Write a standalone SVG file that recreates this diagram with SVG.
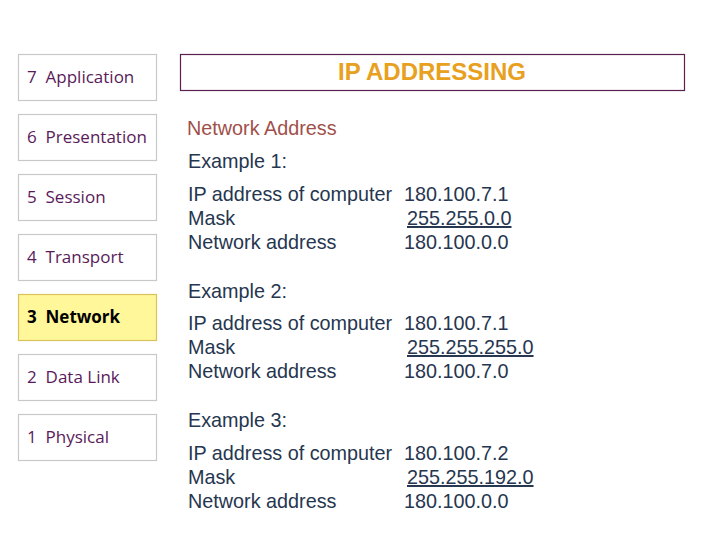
<svg xmlns="http://www.w3.org/2000/svg" width="720" height="540" viewBox="0 0 720 540">
<style>
.layer rect{fill:#fff;stroke:#c8c8c8;stroke-width:1.2}
.layer text{font-family:"Open Sans","Noto Sans",sans-serif;font-size:17px;fill:#5a1a5a;white-space:pre}
#l3 rect{fill:#fff799;stroke:#d9c25a}
#l3 text{fill:#000;font-weight:bold}
.t{font-family:"Liberation Sans",Arial,sans-serif;font-size:19.8px;fill:#26364f}
.u{text-decoration:underline}
</style>
<rect width="720" height="540" fill="#fff"/>
<g id="l7" class="layer"><rect x="18.5" y="54.5" width="138" height="46"/><text x="27" y="83" xml:space="preserve">7  Application</text></g>
<g id="l6" class="layer"><rect x="18.5" y="114.5" width="138" height="46"/><text x="27" y="143" xml:space="preserve">6  Presentation</text></g>
<g id="l5" class="layer"><rect x="18.5" y="174.5" width="138" height="46"/><text x="27" y="203" xml:space="preserve">5  Session</text></g>
<g id="l4" class="layer"><rect x="18.5" y="234.5" width="138" height="46"/><text x="27" y="263" xml:space="preserve">4  Transport</text></g>
<g id="l3" class="layer"><rect x="18.5" y="294.5" width="138" height="46"/><text x="27" y="323" xml:space="preserve">3  Network</text></g>
<g id="l2" class="layer"><rect x="18.5" y="354.5" width="138" height="46"/><text x="27" y="383" xml:space="preserve">2  Data Link</text></g>
<g id="l1" class="layer"><rect x="18.5" y="414.5" width="138" height="46"/><text x="27" y="443" xml:space="preserve">1  Physical</text></g>
<g id="title"><rect x="180.5" y="54.5" width="504" height="36" fill="#fff" stroke="#5a2050" stroke-width="1.2"/>
<text x="432" y="80" text-anchor="middle" font-family="Liberation Sans,Arial,sans-serif" font-size="24" font-weight="bold" fill="#e8a020">IP ADDRESSING</text></g>
<g id="content">
<text class="t" x="187" y="135" style="fill:#a0504a">Network Address</text>
<text class="t" x="188" y="168">Example 1:</text>
<text class="t" x="188" y="201">IP address of computer</text><text class="t" x="404" y="201">180.100.7.1</text>
<text class="t" x="188" y="225">Mask</text><text class="t u" x="407" y="225">255.255.0.0</text>
<text class="t" x="188" y="249">Network address</text><text class="t" x="404" y="249">180.100.0.0</text>
<text class="t" x="188" y="298">Example 2:</text>
<text class="t" x="188" y="330">IP address of computer</text><text class="t" x="404" y="330">180.100.7.1</text>
<text class="t" x="188" y="354">Mask</text><text class="t u" x="407" y="354">255.255.255.0</text>
<text class="t" x="188" y="378">Network address</text><text class="t" x="404" y="378">180.100.7.0</text>
<text class="t" x="188" y="427">Example 3:</text>
<text class="t" x="188" y="460">IP address of computer</text><text class="t" x="404" y="460">180.100.7.2</text>
<text class="t" x="188" y="484">Mask</text><text class="t u" x="407" y="484">255.255.192.0</text>
<text class="t" x="188" y="508">Network address</text><text class="t" x="404" y="508">180.100.0.0</text>
</g>
</svg>
